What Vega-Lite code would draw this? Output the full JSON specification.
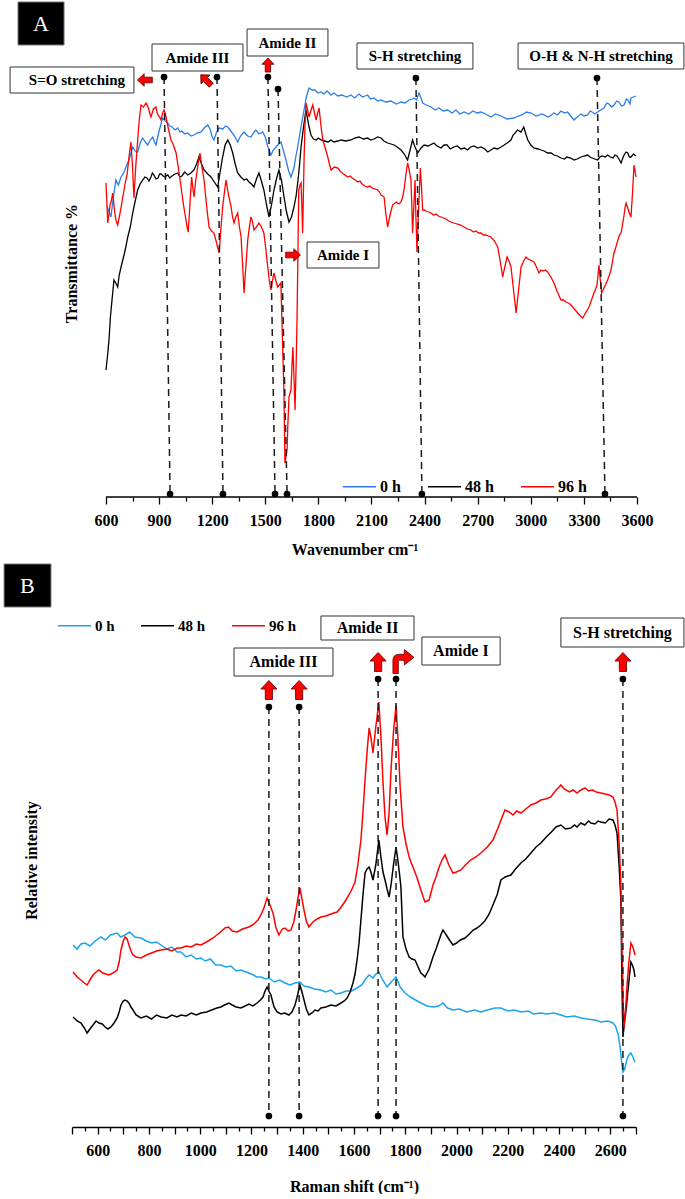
{
"$schema":"https://vega.github.io/schema/vega-lite/v6.json",
"background":"white",
"padding":{"left":3,"top":0,"right":0,"bottom":0},
"bounds":"flush",
"spacing":63,
"config":{
 "view":{"stroke":null},
 "font":"Liberation Serif",
 "axis":{"grid":false,"labelFont":"Liberation Serif","labelFontSize":16,"labelFontWeight":"bold","labelColor":"#000","titleFont":"Liberation Serif","titleFontSize":16,"titleFontWeight":"bold","titleColor":"#000","tickColor":"#000","domainColor":"#000","tickWidth":1.3,"domainWidth":1.3,"labelFlush":false,"labelOverlap":false}
},
"resolve":{"scale":{"color":"independent"},"legend":{"color":"independent"}},
"datasets":{
"ftir":[
{"s":"0 h","wn":606,"t":291},{"s":"0 h","wn":628,"t":280},{"s":"0 h","wn":642,"t":300},{"s":"0 h","wn":656,"t":317},{"s":"0 h","wn":670,"t":312},{"s":"0 h","wn":685,"t":320},{"s":"0 h","wn":700,"t":324},{"s":"0 h","wn":713,"t":330},{"s":"0 h","wn":730,"t":337},{"s":"0 h","wn":751,"t":350},{"s":"0 h","wn":765,"t":346},{"s":"0 h","wn":779,"t":345},{"s":"0 h","wn":793,"t":354},{"s":"0 h","wn":807,"t":359},{"s":"0 h","wn":822,"t":355},{"s":"0 h","wn":836,"t":352},{"s":"0 h","wn":850,"t":357},{"s":"0 h","wn":864,"t":360},{"s":"0 h","wn":874,"t":355},{"s":"0 h","wn":882,"t":352},{"s":"0 h","wn":900,"t":366},{"s":"0 h","wn":920,"t":379},{"s":"0 h","wn":935,"t":376},{"s":"0 h","wn":949,"t":374},{"s":"0 h","wn":960,"t":371},{"s":"0 h","wn":973,"t":370},{"s":"0 h","wn":990,"t":367},{"s":"0 h","wn":1005,"t":369},{"s":"0 h","wn":1018,"t":365},{"s":"0 h","wn":1029,"t":366},{"s":"0 h","wn":1045,"t":363},{"s":"0 h","wn":1062,"t":364},{"s":"0 h","wn":1080,"t":361},{"s":"0 h","wn":1097,"t":362},{"s":"0 h","wn":1115,"t":364},{"s":"0 h","wn":1137,"t":365},{"s":"0 h","wn":1155,"t":369},{"s":"0 h","wn":1175,"t":372},{"s":"0 h","wn":1190,"t":367},{"s":"0 h","wn":1200,"t":360},{"s":"0 h","wn":1210,"t":357},{"s":"0 h","wn":1225,"t":365},{"s":"0 h","wn":1239,"t":369},{"s":"0 h","wn":1260,"t":368},{"s":"0 h","wn":1275,"t":371},{"s":"0 h","wn":1288,"t":370},{"s":"0 h","wn":1305,"t":366},{"s":"0 h","wn":1323,"t":362},{"s":"0 h","wn":1344,"t":355},{"s":"0 h","wn":1360,"t":361},{"s":"0 h","wn":1380,"t":365},{"s":"0 h","wn":1400,"t":361},{"s":"0 h","wn":1419,"t":360},{"s":"0 h","wn":1433,"t":364},{"s":"0 h","wn":1447,"t":367},{"s":"0 h","wn":1465,"t":363},{"s":"0 h","wn":1485,"t":365},{"s":"0 h","wn":1500,"t":360},{"s":"0 h","wn":1515,"t":350},{"s":"0 h","wn":1532,"t":342},{"s":"0 h","wn":1545,"t":347},{"s":"0 h","wn":1560,"t":350},{"s":"0 h","wn":1575,"t":353},{"s":"0 h","wn":1588,"t":355},{"s":"0 h","wn":1600,"t":348},{"s":"0 h","wn":1617,"t":337},{"s":"0 h","wn":1632,"t":326},{"s":"0 h","wn":1645,"t":320},{"s":"0 h","wn":1662,"t":329},{"s":"0 h","wn":1672,"t":340},{"s":"0 h","wn":1683,"t":350},{"s":"0 h","wn":1700,"t":368},{"s":"0 h","wn":1719,"t":387},{"s":"0 h","wn":1732,"t":400},{"s":"0 h","wn":1747,"t":409},{"s":"0 h","wn":1765,"t":407},{"s":"0 h","wn":1781,"t":407},{"s":"0 h","wn":1798,"t":404},{"s":"0 h","wn":1815,"t":405},{"s":"0 h","wn":1832,"t":403},{"s":"0 h","wn":1849,"t":406},{"s":"0 h","wn":1870,"t":402},{"s":"0 h","wn":1888,"t":404},{"s":"0 h","wn":1910,"t":401},{"s":"0 h","wn":1933,"t":402},{"s":"0 h","wn":1960,"t":400},{"s":"0 h","wn":1984,"t":402},{"s":"0 h","wn":2005,"t":399},{"s":"0 h","wn":2029,"t":403},{"s":"0 h","wn":2050,"t":400},{"s":"0 h","wn":2078,"t":402},{"s":"0 h","wn":2095,"t":398},{"s":"0 h","wn":2114,"t":399},{"s":"0 h","wn":2135,"t":396},{"s":"0 h","wn":2154,"t":397},{"s":"0 h","wn":2180,"t":395},{"s":"0 h","wn":2210,"t":396},{"s":"0 h","wn":2240,"t":393},{"s":"0 h","wn":2267,"t":395},{"s":"0 h","wn":2290,"t":394},{"s":"0 h","wn":2312,"t":397},{"s":"0 h","wn":2330,"t":398},{"s":"0 h","wn":2340,"t":399},{"s":"0 h","wn":2355,"t":397},{"s":"0 h","wn":2368,"t":404},{"s":"0 h","wn":2378,"t":400},{"s":"0 h","wn":2389,"t":394},{"s":"0 h","wn":2410,"t":392},{"s":"0 h","wn":2436,"t":390},{"s":"0 h","wn":2460,"t":387},{"s":"0 h","wn":2481,"t":389},{"s":"0 h","wn":2505,"t":386},{"s":"0 h","wn":2531,"t":387},{"s":"0 h","wn":2555,"t":384},{"s":"0 h","wn":2577,"t":387},{"s":"0 h","wn":2600,"t":383},{"s":"0 h","wn":2623,"t":385},{"s":"0 h","wn":2650,"t":383},{"s":"0 h","wn":2673,"t":386},{"s":"0 h","wn":2697,"t":384},{"s":"0 h","wn":2719,"t":385},{"s":"0 h","wn":2745,"t":383},{"s":"0 h","wn":2775,"t":380},{"s":"0 h","wn":2800,"t":383},{"s":"0 h","wn":2832,"t":381},{"s":"0 h","wn":2865,"t":378},{"s":"0 h","wn":2905,"t":379},{"s":"0 h","wn":2930,"t":381},{"s":"0 h","wn":2950,"t":382},{"s":"0 h","wn":2975,"t":385},{"s":"0 h","wn":3001,"t":384},{"s":"0 h","wn":3030,"t":381},{"s":"0 h","wn":3063,"t":383},{"s":"0 h","wn":3100,"t":380},{"s":"0 h","wn":3131,"t":384},{"s":"0 h","wn":3150,"t":382},{"s":"0 h","wn":3171,"t":386},{"s":"0 h","wn":3190,"t":384},{"s":"0 h","wn":3208,"t":385},{"s":"0 h","wn":3225,"t":381},{"s":"0 h","wn":3244,"t":377},{"s":"0 h","wn":3262,"t":380},{"s":"0 h","wn":3284,"t":383},{"s":"0 h","wn":3300,"t":381},{"s":"0 h","wn":3321,"t":382},{"s":"0 h","wn":3335,"t":386},{"s":"0 h","wn":3346,"t":385},{"s":"0 h","wn":3362,"t":383},{"s":"0 h","wn":3378,"t":385},{"s":"0 h","wn":3395,"t":387},{"s":"0 h","wn":3413,"t":389},{"s":"0 h","wn":3430,"t":394},{"s":"0 h","wn":3442,"t":393},{"s":"0 h","wn":3456,"t":390},{"s":"0 h","wn":3470,"t":392},{"s":"0 h","wn":3485,"t":396},{"s":"0 h","wn":3498,"t":395},{"s":"0 h","wn":3512,"t":391},{"s":"0 h","wn":3527,"t":392},{"s":"0 h","wn":3540,"t":398},{"s":"0 h","wn":3549,"t":397},{"s":"0 h","wn":3560,"t":393},{"s":"0 h","wn":3566,"t":399},{"s":"0 h","wn":3580,"t":400},{"s":"0 h","wn":3594,"t":401},
{"s":"48 h","wn":600,"t":127},{"s":"48 h","wn":608,"t":140},{"s":"48 h","wn":617,"t":157},{"s":"48 h","wn":625,"t":180},{"s":"48 h","wn":634,"t":197},{"s":"48 h","wn":645,"t":217},{"s":"48 h","wn":655,"t":214},{"s":"48 h","wn":666,"t":210},{"s":"48 h","wn":675,"t":222},{"s":"48 h","wn":685,"t":230},{"s":"48 h","wn":702,"t":242},{"s":"48 h","wn":712,"t":250},{"s":"48 h","wn":723,"t":260},{"s":"48 h","wn":737,"t":270},{"s":"48 h","wn":751,"t":284},{"s":"48 h","wn":765,"t":296},{"s":"48 h","wn":779,"t":307},{"s":"48 h","wn":793,"t":313},{"s":"48 h","wn":807,"t":317},{"s":"48 h","wn":820,"t":320},{"s":"48 h","wn":832,"t":319},{"s":"48 h","wn":843,"t":316},{"s":"48 h","wn":854,"t":320},{"s":"48 h","wn":862,"t":324},{"s":"48 h","wn":871,"t":322},{"s":"48 h","wn":882,"t":318},{"s":"48 h","wn":894,"t":319},{"s":"48 h","wn":903,"t":323},{"s":"48 h","wn":911,"t":323},{"s":"48 h","wn":930,"t":320},{"s":"48 h","wn":949,"t":322},{"s":"48 h","wn":960,"t":319},{"s":"48 h","wn":973,"t":321},{"s":"48 h","wn":990,"t":323},{"s":"48 h","wn":1005,"t":324},{"s":"48 h","wn":1018,"t":320},{"s":"48 h","wn":1029,"t":321},{"s":"48 h","wn":1045,"t":325},{"s":"48 h","wn":1062,"t":322},{"s":"48 h","wn":1080,"t":324},{"s":"48 h","wn":1097,"t":327},{"s":"48 h","wn":1112,"t":333},{"s":"48 h","wn":1125,"t":340},{"s":"48 h","wn":1140,"t":333},{"s":"48 h","wn":1154,"t":327},{"s":"48 h","wn":1175,"t":323},{"s":"48 h","wn":1193,"t":320},{"s":"48 h","wn":1212,"t":315},{"s":"48 h","wn":1231,"t":310},{"s":"48 h","wn":1245,"t":325},{"s":"48 h","wn":1259,"t":340},{"s":"48 h","wn":1273,"t":352},{"s":"48 h","wn":1288,"t":357},{"s":"48 h","wn":1302,"t":352},{"s":"48 h","wn":1316,"t":344},{"s":"48 h","wn":1330,"t":333},{"s":"48 h","wn":1344,"t":324},{"s":"48 h","wn":1362,"t":320},{"s":"48 h","wn":1380,"t":317},{"s":"48 h","wn":1395,"t":318},{"s":"48 h","wn":1408,"t":315},{"s":"48 h","wn":1422,"t":313},{"s":"48 h","wn":1436,"t":310},{"s":"48 h","wn":1450,"t":318},{"s":"48 h","wn":1464,"t":324},{"s":"48 h","wn":1478,"t":316},{"s":"48 h","wn":1492,"t":307},{"s":"48 h","wn":1507,"t":292},{"s":"48 h","wn":1521,"t":280},{"s":"48 h","wn":1535,"t":292},{"s":"48 h","wn":1549,"t":307},{"s":"48 h","wn":1563,"t":318},{"s":"48 h","wn":1577,"t":327},{"s":"48 h","wn":1592,"t":316},{"s":"48 h","wn":1606,"t":300},{"s":"48 h","wn":1620,"t":285},{"s":"48 h","wn":1634,"t":275},{"s":"48 h","wn":1648,"t":280},{"s":"48 h","wn":1662,"t":290},{"s":"48 h","wn":1675,"t":302},{"s":"48 h","wn":1685,"t":317},{"s":"48 h","wn":1694,"t":333},{"s":"48 h","wn":1702,"t":350},{"s":"48 h","wn":1716,"t":370},{"s":"48 h","wn":1730,"t":387},{"s":"48 h","wn":1745,"t":372},{"s":"48 h","wn":1758,"t":362},{"s":"48 h","wn":1772,"t":358},{"s":"48 h","wn":1787,"t":357},{"s":"48 h","wn":1800,"t":359},{"s":"48 h","wn":1815,"t":357},{"s":"48 h","wn":1835,"t":356},{"s":"48 h","wn":1855,"t":355},{"s":"48 h","wn":1870,"t":357},{"s":"48 h","wn":1888,"t":355},{"s":"48 h","wn":1910,"t":356},{"s":"48 h","wn":1928,"t":357},{"s":"48 h","wn":1955,"t":356},{"s":"48 h","wn":1984,"t":357},{"s":"48 h","wn":2005,"t":359},{"s":"48 h","wn":2029,"t":360},{"s":"48 h","wn":2055,"t":358},{"s":"48 h","wn":2078,"t":359},{"s":"48 h","wn":2095,"t":357},{"s":"48 h","wn":2114,"t":358},{"s":"48 h","wn":2135,"t":360},{"s":"48 h","wn":2154,"t":359},{"s":"48 h","wn":2170,"t":356},{"s":"48 h","wn":2191,"t":354},{"s":"48 h","wn":2210,"t":353},{"s":"48 h","wn":2227,"t":352},{"s":"48 h","wn":2245,"t":350},{"s":"48 h","wn":2267,"t":347},{"s":"48 h","wn":2285,"t":343},{"s":"48 h","wn":2304,"t":337},{"s":"48 h","wn":2318,"t":347},{"s":"48 h","wn":2332,"t":357},{"s":"48 h","wn":2346,"t":350},{"s":"48 h","wn":2361,"t":344},{"s":"48 h","wn":2380,"t":349},{"s":"48 h","wn":2397,"t":352},{"s":"48 h","wn":2420,"t":351},{"s":"48 h","wn":2453,"t":354},{"s":"48 h","wn":2470,"t":351},{"s":"48 h","wn":2493,"t":349},{"s":"48 h","wn":2510,"t":352},{"s":"48 h","wn":2527,"t":352},{"s":"48 h","wn":2545,"t":348},{"s":"48 h","wn":2566,"t":350},{"s":"48 h","wn":2585,"t":351},{"s":"48 h","wn":2605,"t":348},{"s":"48 h","wn":2625,"t":349},{"s":"48 h","wn":2643,"t":347},{"s":"48 h","wn":2660,"t":350},{"s":"48 h","wn":2679,"t":351},{"s":"48 h","wn":2700,"t":349},{"s":"48 h","wn":2719,"t":350},{"s":"48 h","wn":2740,"t":348},{"s":"48 h","wn":2757,"t":345},{"s":"48 h","wn":2775,"t":347},{"s":"48 h","wn":2792,"t":349},{"s":"48 h","wn":2812,"t":348},{"s":"48 h","wn":2832,"t":350},{"s":"48 h","wn":2850,"t":352},{"s":"48 h","wn":2866,"t":354},{"s":"48 h","wn":2888,"t":357},{"s":"48 h","wn":2900,"t":362},{"s":"48 h","wn":2911,"t":364},{"s":"48 h","wn":2926,"t":367},{"s":"48 h","wn":2945,"t":365},{"s":"48 h","wn":2960,"t":370},{"s":"48 h","wn":2972,"t":363},{"s":"48 h","wn":2983,"t":357},{"s":"48 h","wn":3000,"t":352},{"s":"48 h","wn":3018,"t":349},{"s":"48 h","wn":3040,"t":348},{"s":"48 h","wn":3058,"t":347},{"s":"48 h","wn":3075,"t":346},{"s":"48 h","wn":3095,"t":344},{"s":"48 h","wn":3115,"t":344},{"s":"48 h","wn":3131,"t":342},{"s":"48 h","wn":3150,"t":341},{"s":"48 h","wn":3171,"t":339},{"s":"48 h","wn":3190,"t":338},{"s":"48 h","wn":3204,"t":340},{"s":"48 h","wn":3225,"t":339},{"s":"48 h","wn":3244,"t":337},{"s":"48 h","wn":3262,"t":338},{"s":"48 h","wn":3284,"t":340},{"s":"48 h","wn":3300,"t":341},{"s":"48 h","wn":3321,"t":342},{"s":"48 h","wn":3335,"t":340},{"s":"48 h","wn":3346,"t":339},{"s":"48 h","wn":3362,"t":338},{"s":"48 h","wn":3378,"t":337},{"s":"48 h","wn":3390,"t":340},{"s":"48 h","wn":3402,"t":341},{"s":"48 h","wn":3420,"t":340},{"s":"48 h","wn":3434,"t":342},{"s":"48 h","wn":3450,"t":340},{"s":"48 h","wn":3464,"t":339},{"s":"48 h","wn":3476,"t":342},{"s":"48 h","wn":3487,"t":341},{"s":"48 h","wn":3498,"t":338},{"s":"48 h","wn":3510,"t":334},{"s":"48 h","wn":3520,"t":339},{"s":"48 h","wn":3527,"t":342},{"s":"48 h","wn":3538,"t":345},{"s":"48 h","wn":3548,"t":344},{"s":"48 h","wn":3557,"t":340},{"s":"48 h","wn":3566,"t":340},{"s":"48 h","wn":3580,"t":343},{"s":"48 h","wn":3594,"t":341},
{"s":"96 h","wn":600,"t":314},{"s":"96 h","wn":610,"t":274},{"s":"96 h","wn":617,"t":283},{"s":"96 h","wn":623,"t":292},{"s":"96 h","wn":630,"t":296},{"s":"96 h","wn":638,"t":304},{"s":"96 h","wn":645,"t":292},{"s":"96 h","wn":651,"t":282},{"s":"96 h","wn":658,"t":276},{"s":"96 h","wn":666,"t":272},{"s":"96 h","wn":675,"t":280},{"s":"96 h","wn":685,"t":289},{"s":"96 h","wn":693,"t":298},{"s":"96 h","wn":702,"t":307},{"s":"96 h","wn":710,"t":315},{"s":"96 h","wn":719,"t":322},{"s":"96 h","wn":730,"t":340},{"s":"96 h","wn":741,"t":355},{"s":"96 h","wn":750,"t":330},{"s":"96 h","wn":758,"t":299},{"s":"96 h","wn":768,"t":330},{"s":"96 h","wn":779,"t":357},{"s":"96 h","wn":788,"t":377},{"s":"96 h","wn":798,"t":392},{"s":"96 h","wn":812,"t":390},{"s":"96 h","wn":826,"t":394},{"s":"96 h","wn":835,"t":391},{"s":"96 h","wn":843,"t":387},{"s":"96 h","wn":850,"t":382},{"s":"96 h","wn":854,"t":380},{"s":"96 h","wn":868,"t":388},{"s":"96 h","wn":882,"t":390},{"s":"96 h","wn":888,"t":385},{"s":"96 h","wn":894,"t":382},{"s":"96 h","wn":903,"t":380},{"s":"96 h","wn":911,"t":377},{"s":"96 h","wn":920,"t":384},{"s":"96 h","wn":928,"t":387},{"s":"96 h","wn":934,"t":384},{"s":"96 h","wn":939,"t":380},{"s":"96 h","wn":953,"t":368},{"s":"96 h","wn":967,"t":357},{"s":"96 h","wn":981,"t":352},{"s":"96 h","wn":996,"t":344},{"s":"96 h","wn":1010,"t":328},{"s":"96 h","wn":1024,"t":310},{"s":"96 h","wn":1038,"t":292},{"s":"96 h","wn":1052,"t":277},{"s":"96 h","wn":1058,"t":270},{"s":"96 h","wn":1065,"t":265},{"s":"96 h","wn":1075,"t":295},{"s":"96 h","wn":1084,"t":320},{"s":"96 h","wn":1090,"t":310},{"s":"96 h","wn":1097,"t":300},{"s":"96 h","wn":1108,"t":318},{"s":"96 h","wn":1118,"t":330},{"s":"96 h","wn":1125,"t":338},{"s":"96 h","wn":1131,"t":344},{"s":"96 h","wn":1142,"t":330},{"s":"96 h","wn":1154,"t":317},{"s":"96 h","wn":1168,"t":292},{"s":"96 h","wn":1182,"t":270},{"s":"96 h","wn":1196,"t":266},{"s":"96 h","wn":1210,"t":264},{"s":"96 h","wn":1225,"t":254},{"s":"96 h","wn":1239,"t":244},{"s":"96 h","wn":1250,"t":270},{"s":"96 h","wn":1259,"t":290},{"s":"96 h","wn":1270,"t":306},{"s":"96 h","wn":1278,"t":317},{"s":"96 h","wn":1292,"t":302},{"s":"96 h","wn":1307,"t":290},{"s":"96 h","wn":1315,"t":280},{"s":"96 h","wn":1323,"t":274},{"s":"96 h","wn":1333,"t":280},{"s":"96 h","wn":1344,"t":284},{"s":"96 h","wn":1354,"t":270},{"s":"96 h","wn":1363,"t":260},{"s":"96 h","wn":1372,"t":232},{"s":"96 h","wn":1380,"t":204},{"s":"96 h","wn":1390,"t":230},{"s":"96 h","wn":1401,"t":257},{"s":"96 h","wn":1410,"t":270},{"s":"96 h","wn":1419,"t":280},{"s":"96 h","wn":1428,"t":275},{"s":"96 h","wn":1436,"t":267},{"s":"96 h","wn":1450,"t":270},{"s":"96 h","wn":1464,"t":274},{"s":"96 h","wn":1478,"t":270},{"s":"96 h","wn":1492,"t":264},{"s":"96 h","wn":1503,"t":248},{"s":"96 h","wn":1514,"t":230},{"s":"96 h","wn":1523,"t":216},{"s":"96 h","wn":1532,"t":207},{"s":"96 h","wn":1540,"t":216},{"s":"96 h","wn":1549,"t":224},{"s":"96 h","wn":1560,"t":216},{"s":"96 h","wn":1570,"t":210},{"s":"96 h","wn":1580,"t":212},{"s":"96 h","wn":1588,"t":214},{"s":"96 h","wn":1597,"t":157},{"s":"96 h","wn":1605,"t":107},{"s":"96 h","wn":1611,"t":34},{"s":"96 h","wn":1617,"t":40},{"s":"96 h","wn":1623,"t":47},{"s":"96 h","wn":1628,"t":75},{"s":"96 h","wn":1634,"t":100},{"s":"96 h","wn":1640,"t":104},{"s":"96 h","wn":1645,"t":107},{"s":"96 h","wn":1650,"t":128},{"s":"96 h","wn":1656,"t":150},{"s":"96 h","wn":1662,"t":120},{"s":"96 h","wn":1668,"t":87},{"s":"96 h","wn":1674,"t":130},{"s":"96 h","wn":1679,"t":174},{"s":"96 h","wn":1685,"t":250},{"s":"96 h","wn":1689,"t":307},{"s":"96 h","wn":1696,"t":312},{"s":"96 h","wn":1702,"t":314},{"s":"96 h","wn":1707,"t":290},{"s":"96 h","wn":1711,"t":264},{"s":"96 h","wn":1715,"t":300},{"s":"96 h","wn":1719,"t":337},{"s":"96 h","wn":1724,"t":370},{"s":"96 h","wn":1730,"t":394},{"s":"96 h","wn":1738,"t":388},{"s":"96 h","wn":1747,"t":380},{"s":"96 h","wn":1757,"t":386},{"s":"96 h","wn":1768,"t":392},{"s":"96 h","wn":1777,"t":385},{"s":"96 h","wn":1787,"t":377},{"s":"96 h","wn":1796,"t":384},{"s":"96 h","wn":1804,"t":389},{"s":"96 h","wn":1814,"t":372},{"s":"96 h","wn":1825,"t":357},{"s":"96 h","wn":1840,"t":348},{"s":"96 h","wn":1853,"t":340},{"s":"96 h","wn":1862,"t":333},{"s":"96 h","wn":1872,"t":327},{"s":"96 h","wn":1890,"t":330},{"s":"96 h","wn":1910,"t":329},{"s":"96 h","wn":1922,"t":326},{"s":"96 h","wn":1934,"t":324},{"s":"96 h","wn":1950,"t":322},{"s":"96 h","wn":1966,"t":320},{"s":"96 h","wn":1980,"t":321},{"s":"96 h","wn":1991,"t":319},{"s":"96 h","wn":2008,"t":317},{"s":"96 h","wn":2023,"t":315},{"s":"96 h","wn":2035,"t":316},{"s":"96 h","wn":2047,"t":313},{"s":"96 h","wn":2062,"t":311},{"s":"96 h","wn":2078,"t":310},{"s":"96 h","wn":2090,"t":311},{"s":"96 h","wn":2103,"t":309},{"s":"96 h","wn":2120,"t":308},{"s":"96 h","wn":2135,"t":307},{"s":"96 h","wn":2145,"t":305},{"s":"96 h","wn":2154,"t":302},{"s":"96 h","wn":2163,"t":301},{"s":"96 h","wn":2171,"t":300},{"s":"96 h","wn":2180,"t":285},{"s":"96 h","wn":2191,"t":270},{"s":"96 h","wn":2205,"t":282},{"s":"96 h","wn":2219,"t":292},{"s":"96 h","wn":2240,"t":295},{"s":"96 h","wn":2255,"t":293},{"s":"96 h","wn":2267,"t":295},{"s":"96 h","wn":2276,"t":300},{"s":"96 h","wn":2284,"t":307},{"s":"96 h","wn":2294,"t":322},{"s":"96 h","wn":2304,"t":334},{"s":"96 h","wn":2313,"t":327},{"s":"96 h","wn":2323,"t":317},{"s":"96 h","wn":2328,"t":290},{"s":"96 h","wn":2332,"t":264},{"s":"96 h","wn":2339,"t":290},{"s":"96 h","wn":2346,"t":317},{"s":"96 h","wn":2351,"t":280},{"s":"96 h","wn":2357,"t":245},{"s":"96 h","wn":2366,"t":287},{"s":"96 h","wn":2376,"t":329},{"s":"96 h","wn":2383,"t":308},{"s":"96 h","wn":2389,"t":287},{"s":"96 h","wn":2400,"t":287},{"s":"96 h","wn":2408,"t":286},{"s":"96 h","wn":2422,"t":285},{"s":"96 h","wn":2436,"t":284},{"s":"96 h","wn":2450,"t":282},{"s":"96 h","wn":2464,"t":283},{"s":"96 h","wn":2478,"t":281},{"s":"96 h","wn":2493,"t":280},{"s":"96 h","wn":2507,"t":279},{"s":"96 h","wn":2521,"t":278},{"s":"96 h","wn":2535,"t":276},{"s":"96 h","wn":2549,"t":275},{"s":"96 h","wn":2565,"t":274},{"s":"96 h","wn":2583,"t":273},{"s":"96 h","wn":2603,"t":272},{"s":"96 h","wn":2623,"t":270},{"s":"96 h","wn":2643,"t":268},{"s":"96 h","wn":2662,"t":267},{"s":"96 h","wn":2676,"t":265},{"s":"96 h","wn":2690,"t":266},{"s":"96 h","wn":2705,"t":264},{"s":"96 h","wn":2719,"t":264},{"s":"96 h","wn":2733,"t":262},{"s":"96 h","wn":2747,"t":262},{"s":"96 h","wn":2761,"t":261},{"s":"96 h","wn":2775,"t":260},{"s":"96 h","wn":2795,"t":256},{"s":"96 h","wn":2813,"t":250},{"s":"96 h","wn":2827,"t":236},{"s":"96 h","wn":2841,"t":220},{"s":"96 h","wn":2853,"t":230},{"s":"96 h","wn":2866,"t":240},{"s":"96 h","wn":2877,"t":236},{"s":"96 h","wn":2888,"t":230},{"s":"96 h","wn":2902,"t":208},{"s":"96 h","wn":2917,"t":184},{"s":"96 h","wn":2931,"t":207},{"s":"96 h","wn":2945,"t":230},{"s":"96 h","wn":2960,"t":236},{"s":"96 h","wn":2973,"t":240},{"s":"96 h","wn":2985,"t":238},{"s":"96 h","wn":2996,"t":237},{"s":"96 h","wn":3007,"t":236},{"s":"96 h","wn":3018,"t":235},{"s":"96 h","wn":3032,"t":230},{"s":"96 h","wn":3046,"t":224},{"s":"96 h","wn":3058,"t":227},{"s":"96 h","wn":3069,"t":226},{"s":"96 h","wn":3082,"t":227},{"s":"96 h","wn":3095,"t":225},{"s":"96 h","wn":3113,"t":220},{"s":"96 h","wn":3131,"t":214},{"s":"96 h","wn":3150,"t":205},{"s":"96 h","wn":3171,"t":197},{"s":"96 h","wn":3185,"t":197},{"s":"96 h","wn":3199,"t":195},{"s":"96 h","wn":3213,"t":194},{"s":"96 h","wn":3227,"t":192},{"s":"96 h","wn":3246,"t":188},{"s":"96 h","wn":3265,"t":184},{"s":"96 h","wn":3280,"t":181},{"s":"96 h","wn":3293,"t":179},{"s":"96 h","wn":3303,"t":182},{"s":"96 h","wn":3312,"t":185},{"s":"96 h","wn":3320,"t":187},{"s":"96 h","wn":3329,"t":190},{"s":"96 h","wn":3343,"t":197},{"s":"96 h","wn":3357,"t":204},{"s":"96 h","wn":3366,"t":208},{"s":"96 h","wn":3374,"t":212},{"s":"96 h","wn":3380,"t":222},{"s":"96 h","wn":3385,"t":232},{"s":"96 h","wn":3392,"t":218},{"s":"96 h","wn":3400,"t":204},{"s":"96 h","wn":3406,"t":206},{"s":"96 h","wn":3413,"t":209},{"s":"96 h","wn":3424,"t":213},{"s":"96 h","wn":3434,"t":217},{"s":"96 h","wn":3444,"t":222},{"s":"96 h","wn":3453,"t":227},{"s":"96 h","wn":3462,"t":236},{"s":"96 h","wn":3470,"t":244},{"s":"96 h","wn":3481,"t":250},{"s":"96 h","wn":3492,"t":257},{"s":"96 h","wn":3501,"t":262},{"s":"96 h","wn":3510,"t":264},{"s":"96 h","wn":3518,"t":272},{"s":"96 h","wn":3527,"t":282},{"s":"96 h","wn":3533,"t":290},{"s":"96 h","wn":3538,"t":294},{"s":"96 h","wn":3546,"t":290},{"s":"96 h","wn":3555,"t":285},{"s":"96 h","wn":3561,"t":282},{"s":"96 h","wn":3566,"t":280},{"s":"96 h","wn":3575,"t":305},{"s":"96 h","wn":3583,"t":332},{"s":"96 h","wn":3589,"t":326},{"s":"96 h","wn":3594,"t":320}
],
"raman":[
{"s":"0 h","rs":504,"ri":182},{"s":"0 h","rs":520,"ri":178},{"s":"0 h","rs":535,"ri":183},{"s":"0 h","rs":551,"ri":184},{"s":"0 h","rs":570,"ri":181},{"s":"0 h","rs":590,"ri":186},{"s":"0 h","rs":613,"ri":190},{"s":"0 h","rs":630,"ri":187},{"s":"0 h","rs":650,"ri":192},{"s":"0 h","rs":676,"ri":194},{"s":"0 h","rs":690,"ri":190},{"s":"0 h","rs":707,"ri":192},{"s":"0 h","rs":725,"ri":195},{"s":"0 h","rs":745,"ri":190},{"s":"0 h","rs":769,"ri":189},{"s":"0 h","rs":790,"ri":186},{"s":"0 h","rs":810,"ri":184},{"s":"0 h","rs":830,"ri":185},{"s":"0 h","rs":847,"ri":182},{"s":"0 h","rs":870,"ri":178},{"s":"0 h","rs":890,"ri":180},{"s":"0 h","rs":910,"ri":175},{"s":"0 h","rs":925,"ri":175},{"s":"0 h","rs":945,"ri":170},{"s":"0 h","rs":965,"ri":172},{"s":"0 h","rs":985,"ri":168},{"s":"0 h","rs":1003,"ri":169},{"s":"0 h","rs":1020,"ri":166},{"s":"0 h","rs":1040,"ri":168},{"s":"0 h","rs":1060,"ri":162},{"s":"0 h","rs":1081,"ri":162},{"s":"0 h","rs":1100,"ri":160},{"s":"0 h","rs":1120,"ri":161},{"s":"0 h","rs":1140,"ri":156},{"s":"0 h","rs":1159,"ri":157},{"s":"0 h","rs":1180,"ri":155},{"s":"0 h","rs":1200,"ri":153},{"s":"0 h","rs":1220,"ri":150},{"s":"0 h","rs":1237,"ri":150},{"s":"0 h","rs":1255,"ri":148},{"s":"0 h","rs":1268,"ri":149},{"s":"0 h","rs":1290,"ri":145},{"s":"0 h","rs":1310,"ri":147},{"s":"0 h","rs":1331,"ri":144},{"s":"0 h","rs":1350,"ri":142},{"s":"0 h","rs":1370,"ri":144},{"s":"0 h","rs":1389,"ri":145},{"s":"0 h","rs":1405,"ri":141},{"s":"0 h","rs":1424,"ri":140},{"s":"0 h","rs":1445,"ri":138},{"s":"0 h","rs":1471,"ri":137},{"s":"0 h","rs":1490,"ri":135},{"s":"0 h","rs":1510,"ri":137},{"s":"0 h","rs":1530,"ri":133},{"s":"0 h","rs":1549,"ri":134},{"s":"0 h","rs":1570,"ri":136},{"s":"0 h","rs":1590,"ri":136},{"s":"0 h","rs":1612,"ri":139},{"s":"0 h","rs":1630,"ri":142},{"s":"0 h","rs":1645,"ri":148},{"s":"0 h","rs":1659,"ri":152},{"s":"0 h","rs":1674,"ri":149},{"s":"0 h","rs":1685,"ri":153},{"s":"0 h","rs":1697,"ri":155},{"s":"0 h","rs":1710,"ri":148},{"s":"0 h","rs":1729,"ri":140},{"s":"0 h","rs":1745,"ri":145},{"s":"0 h","rs":1764,"ri":150},{"s":"0 h","rs":1780,"ri":140},{"s":"0 h","rs":1799,"ri":134},{"s":"0 h","rs":1820,"ri":130},{"s":"0 h","rs":1840,"ri":127},{"s":"0 h","rs":1861,"ri":124},{"s":"0 h","rs":1885,"ri":121},{"s":"0 h","rs":1908,"ri":120},{"s":"0 h","rs":1930,"ri":121},{"s":"0 h","rs":1947,"ri":124},{"s":"0 h","rs":1965,"ri":119},{"s":"0 h","rs":1986,"ri":117},{"s":"0 h","rs":2010,"ri":118},{"s":"0 h","rs":2040,"ri":115},{"s":"0 h","rs":2070,"ri":117},{"s":"0 h","rs":2095,"ri":115},{"s":"0 h","rs":2120,"ri":117},{"s":"0 h","rs":2150,"ri":119},{"s":"0 h","rs":2173,"ri":119},{"s":"0 h","rs":2200,"ri":116},{"s":"0 h","rs":2225,"ri":117},{"s":"0 h","rs":2251,"ri":115},{"s":"0 h","rs":2280,"ri":116},{"s":"0 h","rs":2300,"ri":113},{"s":"0 h","rs":2329,"ri":114},{"s":"0 h","rs":2350,"ri":113},{"s":"0 h","rs":2380,"ri":114},{"s":"0 h","rs":2407,"ri":112},{"s":"0 h","rs":2430,"ri":110},{"s":"0 h","rs":2460,"ri":111},{"s":"0 h","rs":2485,"ri":109},{"s":"0 h","rs":2510,"ri":108},{"s":"0 h","rs":2540,"ri":107},{"s":"0 h","rs":2563,"ri":105},{"s":"0 h","rs":2590,"ri":106},{"s":"0 h","rs":2610,"ri":104},{"s":"0 h","rs":2620,"ri":101},{"s":"0 h","rs":2630,"ri":93},{"s":"0 h","rs":2638,"ri":80},{"s":"0 h","rs":2645,"ri":62},{"s":"0 h","rs":2649,"ri":55},{"s":"0 h","rs":2656,"ri":58},{"s":"0 h","rs":2665,"ri":68},{"s":"0 h","rs":2672,"ri":72},{"s":"0 h","rs":2680,"ri":74},{"s":"0 h","rs":2688,"ri":70},{"s":"0 h","rs":2696,"ri":65},
{"s":"48 h","rs":504,"ri":110},{"s":"48 h","rs":520,"ri":106},{"s":"48 h","rs":535,"ri":104},{"s":"48 h","rs":548,"ri":99},{"s":"48 h","rs":559,"ri":94},{"s":"48 h","rs":570,"ri":98},{"s":"48 h","rs":582,"ri":102},{"s":"48 h","rs":594,"ri":106},{"s":"48 h","rs":605,"ri":104},{"s":"48 h","rs":618,"ri":103},{"s":"48 h","rs":629,"ri":100},{"s":"48 h","rs":640,"ri":98},{"s":"48 h","rs":652,"ri":100},{"s":"48 h","rs":664,"ri":104},{"s":"48 h","rs":676,"ri":109},{"s":"48 h","rs":684,"ri":115},{"s":"48 h","rs":691,"ri":122},{"s":"48 h","rs":700,"ri":126},{"s":"48 h","rs":707,"ri":127},{"s":"48 h","rs":715,"ri":126},{"s":"48 h","rs":722,"ri":124},{"s":"48 h","rs":730,"ri":120},{"s":"48 h","rs":738,"ri":117},{"s":"48 h","rs":750,"ri":112},{"s":"48 h","rs":769,"ri":109},{"s":"48 h","rs":790,"ri":111},{"s":"48 h","rs":810,"ri":108},{"s":"48 h","rs":830,"ri":112},{"s":"48 h","rs":847,"ri":110},{"s":"48 h","rs":870,"ri":109},{"s":"48 h","rs":890,"ri":112},{"s":"48 h","rs":910,"ri":110},{"s":"48 h","rs":925,"ri":112},{"s":"48 h","rs":945,"ri":111},{"s":"48 h","rs":965,"ri":114},{"s":"48 h","rs":985,"ri":112},{"s":"48 h","rs":1003,"ri":114},{"s":"48 h","rs":1025,"ri":115},{"s":"48 h","rs":1045,"ri":117},{"s":"48 h","rs":1065,"ri":119},{"s":"48 h","rs":1081,"ri":120},{"s":"48 h","rs":1095,"ri":122},{"s":"48 h","rs":1112,"ri":124},{"s":"48 h","rs":1125,"ri":122},{"s":"48 h","rs":1140,"ri":120},{"s":"48 h","rs":1159,"ri":119},{"s":"48 h","rs":1175,"ri":121},{"s":"48 h","rs":1190,"ri":123},{"s":"48 h","rs":1205,"ri":121},{"s":"48 h","rs":1222,"ri":124},{"s":"48 h","rs":1235,"ri":127},{"s":"48 h","rs":1245,"ri":130},{"s":"48 h","rs":1253,"ri":136},{"s":"48 h","rs":1261,"ri":140},{"s":"48 h","rs":1268,"ri":136},{"s":"48 h","rs":1276,"ri":132},{"s":"48 h","rs":1288,"ri":120},{"s":"48 h","rs":1300,"ri":115},{"s":"48 h","rs":1315,"ri":113},{"s":"48 h","rs":1330,"ri":114},{"s":"48 h","rs":1346,"ri":112},{"s":"48 h","rs":1358,"ri":115},{"s":"48 h","rs":1370,"ri":122},{"s":"48 h","rs":1380,"ri":132},{"s":"48 h","rs":1389,"ri":142},{"s":"48 h","rs":1397,"ri":135},{"s":"48 h","rs":1405,"ri":127},{"s":"48 h","rs":1414,"ri":118},{"s":"48 h","rs":1424,"ri":112},{"s":"48 h","rs":1436,"ri":114},{"s":"48 h","rs":1448,"ri":117},{"s":"48 h","rs":1460,"ri":116},{"s":"48 h","rs":1471,"ri":119},{"s":"48 h","rs":1490,"ri":120},{"s":"48 h","rs":1510,"ri":122},{"s":"48 h","rs":1530,"ri":121},{"s":"48 h","rs":1549,"ri":124},{"s":"48 h","rs":1562,"ri":126},{"s":"48 h","rs":1573,"ri":129},{"s":"48 h","rs":1585,"ri":135},{"s":"48 h","rs":1596,"ri":144},{"s":"48 h","rs":1604,"ri":153},{"s":"48 h","rs":1612,"ri":167},{"s":"48 h","rs":1620,"ri":185},{"s":"48 h","rs":1627,"ri":207},{"s":"48 h","rs":1635,"ri":232},{"s":"48 h","rs":1643,"ri":254},{"s":"48 h","rs":1651,"ri":258},{"s":"48 h","rs":1659,"ri":260},{"s":"48 h","rs":1666,"ri":255},{"s":"48 h","rs":1674,"ri":247},{"s":"48 h","rs":1685,"ri":262},{"s":"48 h","rs":1697,"ri":287},{"s":"48 h","rs":1705,"ri":270},{"s":"48 h","rs":1713,"ri":255},{"s":"48 h","rs":1721,"ri":247},{"s":"48 h","rs":1729,"ri":238},{"s":"48 h","rs":1737,"ri":230},{"s":"48 h","rs":1745,"ri":243},{"s":"48 h","rs":1754,"ri":262},{"s":"48 h","rs":1764,"ri":280},{"s":"48 h","rs":1772,"ri":265},{"s":"48 h","rs":1778,"ri":252},{"s":"48 h","rs":1783,"ri":240},{"s":"48 h","rs":1787,"ri":215},{"s":"48 h","rs":1791,"ri":190},{"s":"48 h","rs":1803,"ri":178},{"s":"48 h","rs":1815,"ri":170},{"s":"48 h","rs":1826,"ri":168},{"s":"48 h","rs":1838,"ri":167},{"s":"48 h","rs":1850,"ri":160},{"s":"48 h","rs":1861,"ri":154},{"s":"48 h","rs":1870,"ri":152},{"s":"48 h","rs":1877,"ri":150},{"s":"48 h","rs":1893,"ri":158},{"s":"48 h","rs":1908,"ri":170},{"s":"48 h","rs":1920,"ri":178},{"s":"48 h","rs":1932,"ri":187},{"s":"48 h","rs":1940,"ri":193},{"s":"48 h","rs":1947,"ri":197},{"s":"48 h","rs":1960,"ri":192},{"s":"48 h","rs":1975,"ri":186},{"s":"48 h","rs":1986,"ri":182},{"s":"48 h","rs":2000,"ri":184},{"s":"48 h","rs":2015,"ri":187},{"s":"48 h","rs":2033,"ri":189},{"s":"48 h","rs":2050,"ri":193},{"s":"48 h","rs":2065,"ri":197},{"s":"48 h","rs":2080,"ri":199},{"s":"48 h","rs":2095,"ri":202},{"s":"48 h","rs":2110,"ri":206},{"s":"48 h","rs":2125,"ri":212},{"s":"48 h","rs":2134,"ri":217},{"s":"48 h","rs":2145,"ri":224},{"s":"48 h","rs":2158,"ri":232},{"s":"48 h","rs":2173,"ri":247},{"s":"48 h","rs":2190,"ri":250},{"s":"48 h","rs":2212,"ri":252},{"s":"48 h","rs":2230,"ri":258},{"s":"48 h","rs":2251,"ri":264},{"s":"48 h","rs":2270,"ri":268},{"s":"48 h","rs":2290,"ri":274},{"s":"48 h","rs":2310,"ri":280},{"s":"48 h","rs":2329,"ri":284},{"s":"48 h","rs":2350,"ri":290},{"s":"48 h","rs":2370,"ri":295},{"s":"48 h","rs":2388,"ri":300},{"s":"48 h","rs":2407,"ri":302},{"s":"48 h","rs":2425,"ri":298},{"s":"48 h","rs":2446,"ri":299},{"s":"48 h","rs":2460,"ri":302},{"s":"48 h","rs":2470,"ri":300},{"s":"48 h","rs":2485,"ri":304},{"s":"48 h","rs":2500,"ri":302},{"s":"48 h","rs":2515,"ri":306},{"s":"48 h","rs":2524,"ri":304},{"s":"48 h","rs":2540,"ri":303},{"s":"48 h","rs":2552,"ri":306},{"s":"48 h","rs":2563,"ri":305},{"s":"48 h","rs":2580,"ri":304},{"s":"48 h","rs":2595,"ri":308},{"s":"48 h","rs":2610,"ri":307},{"s":"48 h","rs":2618,"ri":302},{"s":"48 h","rs":2626,"ri":294},{"s":"48 h","rs":2634,"ri":262},{"s":"48 h","rs":2641,"ri":227},{"s":"48 h","rs":2645,"ri":147},{"s":"48 h","rs":2649,"ri":90},{"s":"48 h","rs":2655,"ri":104},{"s":"48 h","rs":2661,"ri":117},{"s":"48 h","rs":2670,"ri":140},{"s":"48 h","rs":2680,"ri":165},{"s":"48 h","rs":2686,"ri":162},{"s":"48 h","rs":2692,"ri":157},{"s":"48 h","rs":2696,"ri":150},
{"s":"96 h","rs":504,"ri":155},{"s":"96 h","rs":520,"ri":150},{"s":"96 h","rs":535,"ri":147},{"s":"96 h","rs":548,"ri":144},{"s":"96 h","rs":559,"ri":142},{"s":"96 h","rs":570,"ri":147},{"s":"96 h","rs":582,"ri":152},{"s":"96 h","rs":594,"ri":155},{"s":"96 h","rs":605,"ri":157},{"s":"96 h","rs":620,"ri":154},{"s":"96 h","rs":644,"ri":152},{"s":"96 h","rs":660,"ri":154},{"s":"96 h","rs":676,"ri":157},{"s":"96 h","rs":684,"ri":165},{"s":"96 h","rs":691,"ri":177},{"s":"96 h","rs":700,"ri":186},{"s":"96 h","rs":707,"ri":190},{"s":"96 h","rs":715,"ri":188},{"s":"96 h","rs":722,"ri":182},{"s":"96 h","rs":730,"ri":176},{"s":"96 h","rs":738,"ri":172},{"s":"96 h","rs":750,"ri":170},{"s":"96 h","rs":769,"ri":169},{"s":"96 h","rs":790,"ri":172},{"s":"96 h","rs":810,"ri":174},{"s":"96 h","rs":830,"ri":176},{"s":"96 h","rs":847,"ri":177},{"s":"96 h","rs":870,"ri":178},{"s":"96 h","rs":890,"ri":176},{"s":"96 h","rs":910,"ri":179},{"s":"96 h","rs":925,"ri":179},{"s":"96 h","rs":945,"ri":181},{"s":"96 h","rs":965,"ri":180},{"s":"96 h","rs":985,"ri":183},{"s":"96 h","rs":1003,"ri":182},{"s":"96 h","rs":1025,"ri":185},{"s":"96 h","rs":1050,"ri":189},{"s":"96 h","rs":1075,"ri":194},{"s":"96 h","rs":1097,"ri":199},{"s":"96 h","rs":1110,"ri":200},{"s":"96 h","rs":1125,"ri":196},{"s":"96 h","rs":1144,"ri":195},{"s":"96 h","rs":1165,"ri":198},{"s":"96 h","rs":1190,"ri":200},{"s":"96 h","rs":1210,"ri":203},{"s":"96 h","rs":1225,"ri":207},{"s":"96 h","rs":1237,"ri":212},{"s":"96 h","rs":1250,"ri":220},{"s":"96 h","rs":1261,"ri":229},{"s":"96 h","rs":1272,"ri":222},{"s":"96 h","rs":1284,"ri":214},{"s":"96 h","rs":1295,"ri":200},{"s":"96 h","rs":1307,"ri":192},{"s":"96 h","rs":1320,"ri":198},{"s":"96 h","rs":1331,"ri":199},{"s":"96 h","rs":1343,"ri":196},{"s":"96 h","rs":1354,"ri":197},{"s":"96 h","rs":1365,"ri":205},{"s":"96 h","rs":1374,"ri":217},{"s":"96 h","rs":1382,"ri":230},{"s":"96 h","rs":1389,"ri":239},{"s":"96 h","rs":1397,"ri":228},{"s":"96 h","rs":1405,"ri":217},{"s":"96 h","rs":1414,"ri":206},{"s":"96 h","rs":1424,"ri":200},{"s":"96 h","rs":1440,"ri":205},{"s":"96 h","rs":1456,"ri":208},{"s":"96 h","rs":1471,"ri":210},{"s":"96 h","rs":1490,"ri":211},{"s":"96 h","rs":1510,"ri":213},{"s":"96 h","rs":1534,"ri":215},{"s":"96 h","rs":1550,"ri":220},{"s":"96 h","rs":1566,"ri":226},{"s":"96 h","rs":1580,"ri":232},{"s":"96 h","rs":1592,"ri":238},{"s":"96 h","rs":1604,"ri":245},{"s":"96 h","rs":1615,"ri":262},{"s":"96 h","rs":1627,"ri":287},{"s":"96 h","rs":1635,"ri":315},{"s":"96 h","rs":1643,"ri":347},{"s":"96 h","rs":1651,"ri":375},{"s":"96 h","rs":1659,"ri":399},{"s":"96 h","rs":1666,"ri":390},{"s":"96 h","rs":1674,"ri":374},{"s":"96 h","rs":1685,"ri":400},{"s":"96 h","rs":1697,"ri":425},{"s":"96 h","rs":1705,"ri":390},{"s":"96 h","rs":1713,"ri":345},{"s":"96 h","rs":1721,"ri":310},{"s":"96 h","rs":1729,"ri":292},{"s":"96 h","rs":1737,"ri":315},{"s":"96 h","rs":1745,"ri":360},{"s":"96 h","rs":1754,"ri":395},{"s":"96 h","rs":1764,"ri":422},{"s":"96 h","rs":1772,"ri":385},{"s":"96 h","rs":1780,"ri":340},{"s":"96 h","rs":1791,"ri":300},{"s":"96 h","rs":1803,"ri":283},{"s":"96 h","rs":1815,"ri":270},{"s":"96 h","rs":1822,"ri":265},{"s":"96 h","rs":1830,"ri":260},{"s":"96 h","rs":1845,"ri":250},{"s":"96 h","rs":1861,"ri":237},{"s":"96 h","rs":1870,"ri":230},{"s":"96 h","rs":1877,"ri":225},{"s":"96 h","rs":1885,"ri":226},{"s":"96 h","rs":1893,"ri":227},{"s":"96 h","rs":1900,"ri":234},{"s":"96 h","rs":1908,"ri":242},{"s":"96 h","rs":1920,"ri":250},{"s":"96 h","rs":1932,"ri":260},{"s":"96 h","rs":1945,"ri":268},{"s":"96 h","rs":1955,"ri":272},{"s":"96 h","rs":1970,"ri":262},{"s":"96 h","rs":1986,"ri":254},{"s":"96 h","rs":2000,"ri":255},{"s":"96 h","rs":2017,"ri":257},{"s":"96 h","rs":2035,"ri":262},{"s":"96 h","rs":2055,"ri":267},{"s":"96 h","rs":2075,"ri":270},{"s":"96 h","rs":2095,"ri":274},{"s":"96 h","rs":2120,"ri":280},{"s":"96 h","rs":2142,"ri":287},{"s":"96 h","rs":2160,"ri":298},{"s":"96 h","rs":2175,"ri":308},{"s":"96 h","rs":2189,"ri":317},{"s":"96 h","rs":2205,"ri":315},{"s":"96 h","rs":2220,"ri":312},{"s":"96 h","rs":2235,"ri":316},{"s":"96 h","rs":2251,"ri":314},{"s":"96 h","rs":2270,"ri":318},{"s":"96 h","rs":2290,"ri":322},{"s":"96 h","rs":2310,"ri":324},{"s":"96 h","rs":2329,"ri":327},{"s":"96 h","rs":2348,"ri":328},{"s":"96 h","rs":2368,"ri":330},{"s":"96 h","rs":2385,"ri":336},{"s":"96 h","rs":2400,"ri":340},{"s":"96 h","rs":2407,"ri":342},{"s":"96 h","rs":2420,"ri":338},{"s":"96 h","rs":2440,"ri":335},{"s":"96 h","rs":2455,"ri":337},{"s":"96 h","rs":2470,"ri":334},{"s":"96 h","rs":2485,"ri":337},{"s":"96 h","rs":2501,"ri":339},{"s":"96 h","rs":2515,"ri":336},{"s":"96 h","rs":2530,"ri":337},{"s":"96 h","rs":2545,"ri":335},{"s":"96 h","rs":2563,"ri":334},{"s":"96 h","rs":2580,"ri":333},{"s":"96 h","rs":2595,"ri":332},{"s":"96 h","rs":2610,"ri":330},{"s":"96 h","rs":2618,"ri":325},{"s":"96 h","rs":2626,"ri":317},{"s":"96 h","rs":2634,"ri":285},{"s":"96 h","rs":2641,"ri":244},{"s":"96 h","rs":2645,"ri":180},{"s":"96 h","rs":2649,"ri":130},{"s":"96 h","rs":2653,"ri":100},{"s":"96 h","rs":2660,"ri":120},{"s":"96 h","rs":2666,"ri":145},{"s":"96 h","rs":2672,"ri":164},{"s":"96 h","rs":2680,"ri":184},{"s":"96 h","rs":2688,"ri":180},{"s":"96 h","rs":2696,"ri":172}
],
"boxA":[
{"label":"S=O stretching","x1":58,"x2":758,"y1":404,"y2":430,"xc":436,"yc":417},
{"label":"Amide III","x1":860,"x2":1374,"y1":426,"y2":453,"xc":1117,"yc":439.5},
{"label":"Amide II","x1":1397,"x2":1854,"y1":441,"y2":468,"xc":1625,"yc":454.5},
{"label":"S-H stretching","x1":2018,"x2":2673,"y1":428,"y2":454,"xc":2346,"yc":441},
{"label":"O-H & N-H stretching","x1":2928,"x2":3865,"y1":428,"y2":454,"xc":3397,"yc":441},
{"label":"Amide I","x1":1736,"x2":2142,"y1":229,"y2":255,"xc":1939,"yc":242}
],
"lineA":[
{"xt":928,"yt":420,"xb":962,"yb":3},
{"xt":1227,"yt":420,"xb":1261,"yb":3},
{"xt":1515,"yt":420,"xb":1555,"yb":3},
{"xt":1572,"yt":408,"xb":1623,"yb":3},
{"xt":2351,"yt":419,"xb":2385,"yb":3},
{"xt":3374,"yt":419,"xb":3419,"yb":3}
],
"arrowA":[
{"dir":"left","x":820,"y":417},
{"dir":"upleft","x":1165,"y":417},
{"dir":"up","x":1515,"y":432},
{"dir":"right","x":1657,"y":242}
],
"tagA":[{"label":"A","x1":103,"x2":363,"y1":452,"y2":495,"xc":233,"yc":473}],
"boxB":[
{"label":"Amide III","x1":1132,"x2":1518,"y1":451,"y2":479,"xc":1325,"yc":465},
{"label":"Amide II","x1":1471,"x2":1834,"y1":487,"y2":511,"xc":1653,"yc":499},
{"label":"Amide I","x1":1865,"x2":2170,"y1":462,"y2":490,"xc":2017,"yc":476},
{"label":"S-H stretching","x1":2407,"x2":2887,"y1":480,"y2":509,"xc":2647,"yc":494.5}
],
"lineB":[
{"x":1268,"yt":420,"yb":11},
{"x":1386,"yt":420,"yb":11},
{"x":1694,"yt":448,"yb":11},
{"x":1764,"yt":448,"yb":11},
{"x":2649,"yt":448,"yb":11}
],
"arrowB":[
{"dir":"up","x":1268,"y":437},
{"dir":"up","x":1386,"y":437},
{"dir":"up","x":1694,"y":465},
{"dir":"bent","x":1787,"y":465.5},
{"dir":"up","x":2649,"y":465}
],
"tagB":[{"label":"B","x1":235,"x2":418,"y1":520,"y2":563,"xc":326,"yc":541.5}]
},
"vconcat":[
{
 "width":565,"height":497,
 "layer":[
  {"data":{"name":"ftir"},"mark":{"type":"line","strokeWidth":1.3},
   "encoding":{
    "x":{"field":"wn","type":"quantitative","scale":{"domain":[408,3600],"nice":false,"zero":false},
      "axis":{"title":"Wavenumber cm⁻¹","values":[600,750,900,1050,1200,1350,1500,1650,1800,1950,2100,2250,2400,2550,2700,2850,3000,3150,3300,3450,3600],"tickCount":60,"format":"d","labelExpr":"datum.value % 300 === 0 ? datum.label : ''","tickSize":{"condition":{"test":"datum.value % 300 === 0","value":7},"value":4},"domain":false,"labelPadding":8,"titlePadding":13}},
    "y":{"field":"t","type":"quantitative","scale":{"domain":[0,497],"nice":false,"zero":false},
      "axis":{"title":"Transmittance %","domain":false,"ticks":false,"labels":false,"titleX":-1,"titleY":263,"titleAngle":270,"titleAlign":"center","titleBaseline":"middle"}},
    "color":{"field":"s","type":"nominal","scale":{"domain":["0 h","48 h","96 h"],"range":["#2b7de9","#000000","#ff0000"]},
      "legend":{"orient":"none","legendX":270,"legendY":469,"direction":"horizontal","title":null,"symbolType":"stroke","symbolSize":1089,"symbolStrokeWidth":1.6,"labelFont":"Liberation Serif","labelFontSize":16,"labelFontWeight":"bold","labelColor":"#000","columnPadding":23,"labelOffset":3,"padding":0}}
   }},
  {"data":{"values":[{"a":600,"b":3600}]},"mark":{"type":"rule","color":"#000","strokeWidth":1.3},
   "encoding":{"x":{"field":"a","type":"quantitative"},"x2":{"field":"b"},"y":{"datum":0,"type":"quantitative"}}},
  {"data":{"name":"lineA"},"mark":{"type":"rule","strokeDash":[7,5],"strokeWidth":1.5,"color":"#1a1a1a"},
   "encoding":{"x":{"field":"xt","type":"quantitative"},"x2":{"field":"xb"},"y":{"field":"yt","type":"quantitative"},"y2":{"field":"yb"}}},
  {"data":{"name":"lineA"},"mark":{"type":"point","filled":true,"size":45,"color":"#000","opacity":1},
   "encoding":{"x":{"field":"xt","type":"quantitative"},"y":{"field":"yt","type":"quantitative"}}},
  {"data":{"name":"lineA"},"mark":{"type":"point","filled":true,"size":45,"color":"#000","opacity":1},
   "encoding":{"x":{"field":"xb","type":"quantitative"},"y":{"field":"yb","type":"quantitative"}}},
  {"data":{"name":"boxA"},"mark":{"type":"rect","fill":"#fff","stroke":"#333","strokeWidth":1},
   "encoding":{"x":{"field":"x1","type":"quantitative"},"x2":{"field":"x2"},"y":{"field":"y1","type":"quantitative"},"y2":{"field":"y2"}}},
  {"data":{"name":"boxA"},"mark":{"type":"text","font":"Liberation Serif","fontWeight":"bold","fontSize":15,"color":"#000","align":"center","baseline":"middle"},
   "encoding":{"x":{"field":"xc","type":"quantitative"},"y":{"field":"yc","type":"quantitative"},"text":{"field":"label"}}},
  {"data":{"name":"tagA"},"mark":{"type":"rect","fill":"#000","stroke":"#777","strokeWidth":1},
   "encoding":{"x":{"field":"x1","type":"quantitative"},"x2":{"field":"x2"},"y":{"field":"y1","type":"quantitative"},"y2":{"field":"y2"}}},
  {"data":{"name":"tagA"},"mark":{"type":"text","font":"Liberation Serif","fontSize":22,"color":"#fff","align":"center","baseline":"middle"},
   "encoding":{"x":{"field":"xc","type":"quantitative"},"y":{"field":"yc","type":"quantitative"},"text":{"field":"label"}}},
  {"data":{"name":"arrowA"},"transform":[{"filter":"datum.dir === 'left'"}],
   "mark":{"type":"point","shape":"M0,-1L0.85,-0.1L0.38,-0.1L0.38,1L-0.38,1L-0.38,-0.1L-0.85,-0.1Z","filled":true,"color":"#ff0000","stroke":"#5a0000","strokeWidth":0.8,"size":220,"angle":270,"opacity":1},
   "encoding":{"x":{"field":"x","type":"quantitative"},"y":{"field":"y","type":"quantitative"}}},
  {"data":{"name":"arrowA"},"transform":[{"filter":"datum.dir === 'upleft'"}],
   "mark":{"type":"point","shape":"M0,-1L0.85,-0.1L0.38,-0.1L0.38,1L-0.38,1L-0.38,-0.1L-0.85,-0.1Z","filled":true,"color":"#ff0000","stroke":"#5a0000","strokeWidth":0.8,"size":220,"angle":315,"opacity":1},
   "encoding":{"x":{"field":"x","type":"quantitative"},"y":{"field":"y","type":"quantitative"}}},
  {"data":{"name":"arrowA"},"transform":[{"filter":"datum.dir === 'up'"}],
   "mark":{"type":"point","shape":"M0,-1L0.85,-0.1L0.38,-0.1L0.38,1L-0.38,1L-0.38,-0.1L-0.85,-0.1Z","filled":true,"color":"#ff0000","stroke":"#5a0000","strokeWidth":0.8,"size":200,"angle":0,"opacity":1},
   "encoding":{"x":{"field":"x","type":"quantitative"},"y":{"field":"y","type":"quantitative"}}},
  {"data":{"name":"arrowA"},"transform":[{"filter":"datum.dir === 'right'"}],
   "mark":{"type":"point","shape":"M0,-1L0.85,-0.1L0.38,-0.1L0.38,1L-0.38,1L-0.38,-0.1L-0.85,-0.1Z","filled":true,"color":"#ff0000","stroke":"#5a0000","strokeWidth":0.8,"size":220,"angle":90,"opacity":1},
   "encoding":{"x":{"field":"x","type":"quantitative"},"y":{"field":"y","type":"quantitative"}}}
 ]
},
{
 "width":564,"height":567,
 "layer":[
  {"data":{"name":"raman"},"mark":{"type":"line","strokeWidth":1.5},
   "encoding":{
    "x":{"field":"rs","type":"quantitative","scale":{"domain":[500,2700],"nice":false,"zero":false},
      "axis":{"title":"Raman shift (cm⁻¹)","values":[500,550,600,650,700,750,800,850,900,950,1000,1050,1100,1150,1200,1250,1300,1350,1400,1450,1500,1550,1600,1650,1700,1750,1800,1850,1900,1950,2000,2050,2100,2150,2200,2250,2300,2350,2400,2450,2500,2550,2600,2650,2700],"tickCount":100,"format":"d","labelExpr":"datum.value % 200 === 0 ? datum.label : ''","tickSize":{"condition":{"test":"datum.value % 100 === 0","value":7},"value":4},"labelPadding":8,"titlePadding":20}},
    "y":{"field":"ri","type":"quantitative","scale":{"domain":[0,567],"nice":false,"zero":false},
      "axis":{"title":"Relative intensity","domain":false,"ticks":false,"labels":false,"titleX":-41,"titleY":300,"titleAngle":270,"titleAlign":"center","titleBaseline":"middle"}},
    "color":{"field":"s","type":"nominal","scale":{"domain":["0 h","48 h","96 h"],"range":["#1ba3ec","#000000","#ff0000"]},
      "legend":{"orient":"none","legendX":-15,"legendY":48,"direction":"horizontal","title":null,"symbolType":"stroke","symbolSize":1089,"symbolStrokeWidth":1.6,"labelFont":"Liberation Serif","labelFontSize":15,"labelFontWeight":"bold","labelColor":"#000","columnPadding":22,"labelOffset":3,"padding":0}}
   }},
  {"data":{"name":"lineB"},"mark":{"type":"rule","strokeDash":[7,5],"strokeWidth":1.5,"color":"#1a1a1a"},
   "encoding":{"x":{"field":"x","type":"quantitative"},"y":{"field":"yt","type":"quantitative"},"y2":{"field":"yb"}}},
  {"data":{"name":"lineB"},"mark":{"type":"point","filled":true,"size":45,"color":"#000","opacity":1},
   "encoding":{"x":{"field":"x","type":"quantitative"},"y":{"field":"yt","type":"quantitative"}}},
  {"data":{"name":"lineB"},"mark":{"type":"point","filled":true,"size":45,"color":"#000","opacity":1},
   "encoding":{"x":{"field":"x","type":"quantitative"},"y":{"field":"yb","type":"quantitative"}}},
  {"data":{"name":"boxB"},"mark":{"type":"rect","fill":"#fff","stroke":"#333","strokeWidth":1},
   "encoding":{"x":{"field":"x1","type":"quantitative"},"x2":{"field":"x2"},"y":{"field":"y1","type":"quantitative"},"y2":{"field":"y2"}}},
  {"data":{"name":"boxB"},"mark":{"type":"text","font":"Liberation Serif","fontWeight":"bold","fontSize":16,"color":"#000","align":"center","baseline":"middle"},
   "encoding":{"x":{"field":"xc","type":"quantitative"},"y":{"field":"yc","type":"quantitative"},"text":{"field":"label"}}},
  {"data":{"name":"tagB"},"mark":{"type":"rect","fill":"#000","stroke":"#777","strokeWidth":1},
   "encoding":{"x":{"field":"x1","type":"quantitative"},"x2":{"field":"x2"},"y":{"field":"y1","type":"quantitative"},"y2":{"field":"y2"}}},
  {"data":{"name":"tagB"},"mark":{"type":"text","font":"Liberation Serif","fontSize":22,"color":"#fff","align":"center","baseline":"middle"},
   "encoding":{"x":{"field":"xc","type":"quantitative"},"y":{"field":"yc","type":"quantitative"},"text":{"field":"label"}}},
  {"data":{"name":"arrowB"},"transform":[{"filter":"datum.dir === 'up'"}],
   "mark":{"type":"point","shape":"M0,-1L0.85,-0.1L0.38,-0.1L0.38,1L-0.38,1L-0.38,-0.1L-0.85,-0.1Z","filled":true,"color":"#ff0000","stroke":"#5a0000","strokeWidth":0.8,"size":361,"angle":0,"opacity":1},
   "encoding":{"x":{"field":"x","type":"quantitative"},"y":{"field":"y","type":"quantitative"}}},
  {"data":{"name":"arrowB"},"transform":[{"filter":"datum.dir === 'bent'"}],
   "mark":{"type":"point","shape":"M-0.75,1L-0.75,-0.1Q-0.75,-0.6,-0.2,-0.6L0.2,-0.6L0.2,-1L1,-0.35L0.2,0.3L0.2,-0.1L-0.2,-0.1Q-0.3,-0.1,-0.3,0L-0.3,1Z","filled":true,"color":"#ff0000","stroke":"#5a0000","strokeWidth":0.8,"size":576,"opacity":1},
   "encoding":{"x":{"field":"x","type":"quantitative"},"y":{"field":"y","type":"quantitative"}}}
 ]
}
]
}
